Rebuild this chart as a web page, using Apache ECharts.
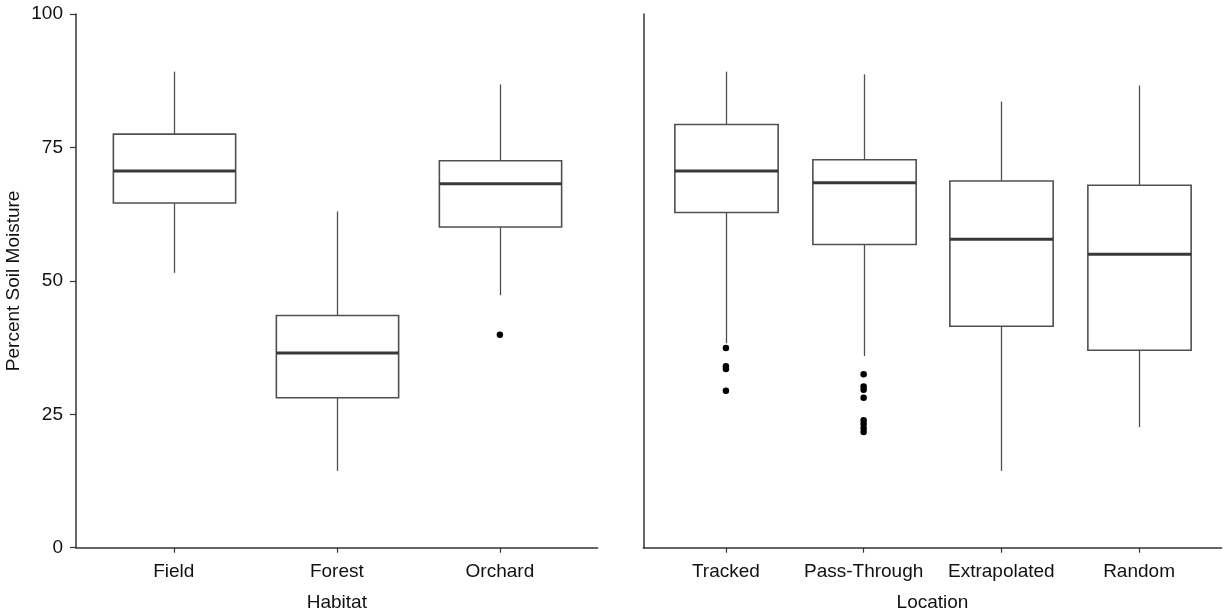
<!DOCTYPE html>
<html>
<head>
<meta charset="utf-8">
<script src="https://cdn.jsdelivr.net/npm/echarts@6/dist/echarts.min.js"></script>
<style>
html,body{margin:0;padding:0;background:#fff;}
#chart{width:1225px;height:615px;}
</style>
</head>
<body>
<div id="chart"></div>
<script>
// ---- Data ----
const yTicks = [0, 25, 50, 75, 100];

const habitatCategories = ['Field', 'Forest', 'Orchard'];
const habitatLow    = [51.5, 14.4, 47.3];
const habitatQ1     = [64.6, 28.1, 60.1];
const habitatMedian = [70.6, 36.5, 68.2];
const habitatQ3     = [77.5, 43.5, 72.5];
const habitatHigh   = [89.2, 63.0, 86.8];
const habitatOutlierCat = ['Orchard'];
const habitatOutlierVal = [39.9];

const locationCategories = ['Tracked', 'Pass-Through', 'Extrapolated', 'Random'];
const locationLow    = [38.3, 35.9, 14.4, 22.6];
const locationQ1     = [62.8, 56.8, 41.5, 37.0];
const locationMedian = [70.6, 68.4, 57.8, 55.0];
const locationQ3     = [79.3, 72.7, 68.7, 67.9];
const locationHigh   = [89.2, 88.7, 83.6, 86.6];
const locationOutlierCat = ['Tracked', 'Tracked', 'Tracked', 'Tracked',
  'Pass-Through', 'Pass-Through', 'Pass-Through', 'Pass-Through',
  'Pass-Through', 'Pass-Through', 'Pass-Through', 'Pass-Through'];
const locationOutlierVal = [37.4, 34.0, 33.5, 29.4,
  32.5, 30.2, 29.6, 28.1, 23.9, 23.2, 22.4, 21.7];

// ---- Build ----
function boxData(cats, lo, q1, med, q3, hi) {
  return cats.map((c, i) => [i, lo[i], q1[i], med[i], q3[i], hi[i]]);
}
function outlierData(cats, oc, ov) {
  return oc.map((c, i) => [cats.indexOf(c), ov[i]]);
}

const boxStroke = '#505050';
const axisColor = '#333';
const textColor = '#111';
const fontFamily = '"Liberation Sans", Arial, sans-serif';
const FS = 19;

function renderBox(params, api) {
  const x = api.value(0);
  const pLo = api.coord([x, api.value(1)]);
  const pQ1 = api.coord([x, api.value(2)]);
  const pMed = api.coord([x, api.value(3)]);
  const pQ3 = api.coord([x, api.value(4)]);
  const pHi = api.coord([x, api.value(5)]);
  const half = api.size([1, 0])[0] * 0.375;
  const cx = Math.round(pMed[0]) + 0.5;
  return {
    type: 'group',
    children: [
      { type: 'line', shape: { x1: cx, y1: pHi[1], x2: cx, y2: pQ3[1] },
        style: { stroke: boxStroke, lineWidth: 1.3 } },
      { type: 'line', shape: { x1: cx, y1: pQ1[1], x2: cx, y2: pLo[1] },
        style: { stroke: boxStroke, lineWidth: 1.3 } },
      { type: 'rect', shape: { x: cx - half, y: pQ3[1], width: half * 2, height: pQ1[1] - pQ3[1] },
        style: { fill: '#fff', stroke: boxStroke, lineWidth: 1.6 } },
      { type: 'line', shape: { x1: cx - half, y1: pMed[1], x2: cx + half, y2: pMed[1] },
        style: { stroke: '#383838', lineWidth: 3 } }
    ]
  };
}

const TOP = 14, BOTTOM = 67.3;
const gridBase = { top: TOP, bottom: BOTTOM, containLabel: false, outerBoundsMode: 'none' };
const grids = [
  Object.assign({ left: 76, width: 521.7 }, gridBase),
  Object.assign({ left: 76 + 0.1 * 163.03, width: 3 * 163.03 }, gridBase),
  Object.assign({ left: 643.3, width: 578.4 }, gridBase),
  Object.assign({ left: 643.3 + 0.1 * 137.71, width: 4 * 137.71 }, gridBase)
];

const frameX = (gi) => ({
  gridIndex: gi, type: 'value', min: 0, max: 1,
  axisLine: { show: true, onZero: false, lineStyle: { color: axisColor, width: 1.5 } },
  axisTick: { show: false }, axisLabel: { show: false }, splitLine: { show: false }
});
const catX = (gi, cats, name) => ({
  gridIndex: gi, type: 'category', data: cats, boundaryGap: true,
  name: name, nameLocation: 'middle', nameGap: 46,
  nameTextStyle: { color: textColor, fontSize: FS, fontFamily: fontFamily },
  axisLine: { show: false },
  axisTick: { show: true, interval: 0, alignWithLabel: true, length: 5, lineStyle: { color: axisColor, width: 1.2 } },
  axisLabel: { show: true, interval: 0, hideOverlap: false, color: textColor, fontSize: FS, fontFamily: fontFamily, margin: 15 },
  splitLine: { show: false }
});
const hiddenY = (gi) => ({
  gridIndex: gi, type: 'value', min: 0, max: 100, show: false
});

const option = {
  backgroundColor: '#fff',
  animation: false,
  grid: grids,
  xAxis: [
    frameX(0),
    catX(1, habitatCategories, 'Habitat'),
    frameX(2),
    catX(3, locationCategories, 'Location')
  ],
  yAxis: [
    {
      gridIndex: 0, type: 'value', min: yTicks[0], max: yTicks[yTicks.length - 1], interval: 25,
      name: 'Percent Soil Moisture', nameLocation: 'middle', nameGap: 53,
      nameTextStyle: { color: textColor, fontSize: FS, fontFamily: fontFamily },
      axisLine: { show: true, onZero: false, lineStyle: { color: axisColor, width: 1.5 } },
      axisTick: { show: true, length: 6, lineStyle: { color: axisColor, width: 1.2 } },
      axisLabel: { color: textColor, fontSize: FS, fontFamily: fontFamily, margin: 13,
        formatter: (v) => yTicks.includes(v) ? String(v) : '' },
      splitLine: { show: false }
    },
    hiddenY(1),
    {
      gridIndex: 2, type: 'value', min: 0, max: 100,
      axisLine: { show: true, onZero: false, lineStyle: { color: axisColor, width: 1.5 } },
      axisTick: { show: false }, axisLabel: { show: false }, splitLine: { show: false }
    },
    hiddenY(3)
  ],
  series: [
    {
      type: 'custom', xAxisIndex: 1, yAxisIndex: 1,
      data: boxData(habitatCategories, habitatLow, habitatQ1, habitatMedian, habitatQ3, habitatHigh),
      encode: { x: 0, y: [1, 2, 3, 4, 5] },
      renderItem: renderBox
    },
    {
      type: 'scatter', xAxisIndex: 1, yAxisIndex: 1,
      data: outlierData(habitatCategories, habitatOutlierCat, habitatOutlierVal),
      symbol: 'circle', symbolSize: 6.5, itemStyle: { color: '#000', opacity: 1 }
    },
    {
      type: 'custom', xAxisIndex: 3, yAxisIndex: 3,
      data: boxData(locationCategories, locationLow, locationQ1, locationMedian, locationQ3, locationHigh),
      encode: { x: 0, y: [1, 2, 3, 4, 5] },
      renderItem: renderBox
    },
    {
      type: 'scatter', xAxisIndex: 3, yAxisIndex: 3,
      data: outlierData(locationCategories, locationOutlierCat, locationOutlierVal),
      symbol: 'circle', symbolSize: 6.5, itemStyle: { color: '#000', opacity: 1 }
    }
  ]
};

const chart = echarts.init(document.getElementById('chart'), null, { renderer: 'canvas' });
chart.setOption(option);
</script>
</body>
</html>
